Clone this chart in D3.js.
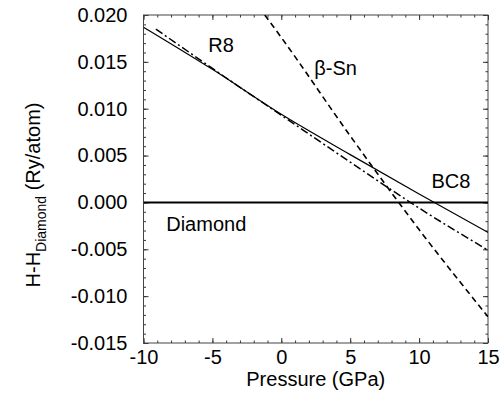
<!DOCTYPE html>
<html>
<head>
<meta charset="utf-8">
<script src="https://cdn.jsdelivr.net/npm/d3@7"></script>
<style>
  body { margin: 0; background: #fff; }
  svg text { font-family: "Liberation Sans", Arial, sans-serif; fill: #000; }
</style>
</head>
<body>
<svg id="chart" width="503" height="405"></svg>
<script>
// Enthalpy relative to diamond vs pressure
const bc8Pressure = [-10, -5, 0, 5, 10, 15];
const bc8Values = [0.0187, 0.0142, 0.0094, 0.0051, 0.0009, -0.0032];

const r8Pressure = [-9.1, -5, 0, 5, 10, 15];
const r8Values = [0.0185, 0.0143, 0.0093, 0.0043, -0.0006, -0.0051];

const betaSnPressure = [-1.2, 0, 5, 10, 15];
const betaSnValues = [0.0200, 0.0176, 0.0071, -0.0029, -0.0122];

const diamondPressure = [-10, 15];
const diamondValues = [0, 0];

const xTicks = [-10, -5, 0, 5, 10, 15];
const yTicks = [-0.015, -0.010, -0.005, 0.000, 0.005, 0.010, 0.015, 0.020];

// curve labels: [text, pressure, value at baseline]
const curveLabels = [
  ["R8", -5.3, 0.0160],
  ["β-Sn", 2.4, 0.0136],
  ["BC8", 10.9, 0.0015],
  ["Diamond", -8.35, -0.0030]
];

const MARGIN = { left: 143.5, right: 15, top: 15, bottom: 62 };
const svg = d3.select("#chart");
const W = 503, H = 405;

const x = d3.scaleLinear().domain([-10, 15]).range([MARGIN.left, W - MARGIN.right]);
const y = d3.scaleLinear().domain([-0.015, 0.020]).range([H - MARGIN.bottom, MARGIN.top]);

const fmtY = d => d3.format(".3f")(d).replace("−", "-");
const fmtX = d => String(d);

// clip
svg.append("clipPath").attr("id", "clip")
  .append("rect")
  .attr("x", x(-10)).attr("y", y(0.020))
  .attr("width", x(15) - x(-10)).attr("height", y(-0.015) - y(0.020));

// minor ticks
const xMinor = d3.range(-10, 15.01, 1);
const yMinor = d3.range(-15, 20.01, 1).map(d => d / 1000);

function tickAxis(axis, scale, vals, size, fmt) {
  return axis(scale).tickValues(vals).tickSizeInner(-size).tickSizeOuter(0).tickFormat(fmt || "");
}

const bottomY = y(-0.015), topY = y(0.020), leftX = x(-10), rightX = x(15);

// bottom
svg.append("g").attr("transform", `translate(0,${bottomY})`)
  .call(tickAxis(d3.axisBottom, x, xMinor, 2.5));
svg.append("g").attr("class", "xaxis").attr("transform", `translate(0,${bottomY})`)
  .call(tickAxis(d3.axisBottom, x, xTicks, 5, fmtX).tickPadding(7));
// top
svg.append("g").attr("transform", `translate(0,${topY})`)
  .call(tickAxis(d3.axisTop, x, xMinor, 2.5));
svg.append("g").attr("transform", `translate(0,${topY})`)
  .call(tickAxis(d3.axisTop, x, xTicks, 5));
// left
svg.append("g").attr("transform", `translate(${leftX},0)`)
  .call(tickAxis(d3.axisLeft, y, yMinor, 2.5));
svg.append("g").attr("class", "yaxis").attr("transform", `translate(${leftX},0)`)
  .call(tickAxis(d3.axisLeft, y, yTicks, 5, fmtY).tickPadding(16));
// right
svg.append("g").attr("transform", `translate(${rightX},0)`)
  .call(tickAxis(d3.axisRight, y, yMinor, 2.5));
svg.append("g").attr("transform", `translate(${rightX},0)`)
  .call(tickAxis(d3.axisRight, y, yTicks, 5));

svg.selectAll(".domain").remove();
svg.selectAll(".tick line").attr("stroke", "#333").attr("stroke-width", 1);
svg.selectAll(".xaxis text, .yaxis text").style("font-size", "20px").attr("fill", "#000");

// frame
svg.append("rect")
  .attr("x", leftX).attr("y", topY)
  .attr("width", rightX - leftX).attr("height", bottomY - topY)
  .attr("fill", "none").attr("stroke", "#444").attr("stroke-width", 1);

// curves
const line = d3.line().x(d => x(d[0])).y(d => y(d[1])).curve(d3.curveMonotoneX);
const plot = svg.append("g").attr("clip-path", "url(#clip)");

const series = [
  { p: diamondPressure, v: diamondValues, width: 2, dash: null },
  { p: bc8Pressure, v: bc8Values, width: 1.2, dash: null },
  { p: r8Pressure, v: r8Values, width: 1.5, dash: "8,3,2,3" },
  { p: betaSnPressure, v: betaSnValues, width: 1.6, dash: "6,4" }
];

series.forEach(s => {
  plot.append("path")
    .datum(d3.zip(s.p, s.v))
    .attr("d", line)
    .attr("fill", "none")
    .attr("stroke", "#000")
    .attr("stroke-width", s.width)
    .attr("stroke-dasharray", s.dash);
});

// curve labels
svg.selectAll(".clabel")
  .data(curveLabels)
  .enter().append("text")
  .attr("class", "clabel")
  .attr("x", d => x(d[1]))
  .attr("y", d => y(d[2]))
  .style("font-size", "20px")
  .text(d => d[0]);

// axis titles
svg.append("text")
  .attr("x", (leftX + rightX) / 2)
  .attr("y", 386)
  .attr("text-anchor", "middle")
  .style("font-size", "20px")
  .text("Pressure (GPa)");

const yTitle = svg.append("text")
  .attr("transform", `translate(40,${195}) rotate(-90)`)
  .attr("text-anchor", "middle")
  .style("font-size", "20px");
yTitle.append("tspan").text("H-H");
yTitle.append("tspan").attr("dy", 6).style("font-size", "14px").text("Diamond");
yTitle.append("tspan").attr("dy", -6).text(" (Ry/atom)");
</script>
</body>
</html>
